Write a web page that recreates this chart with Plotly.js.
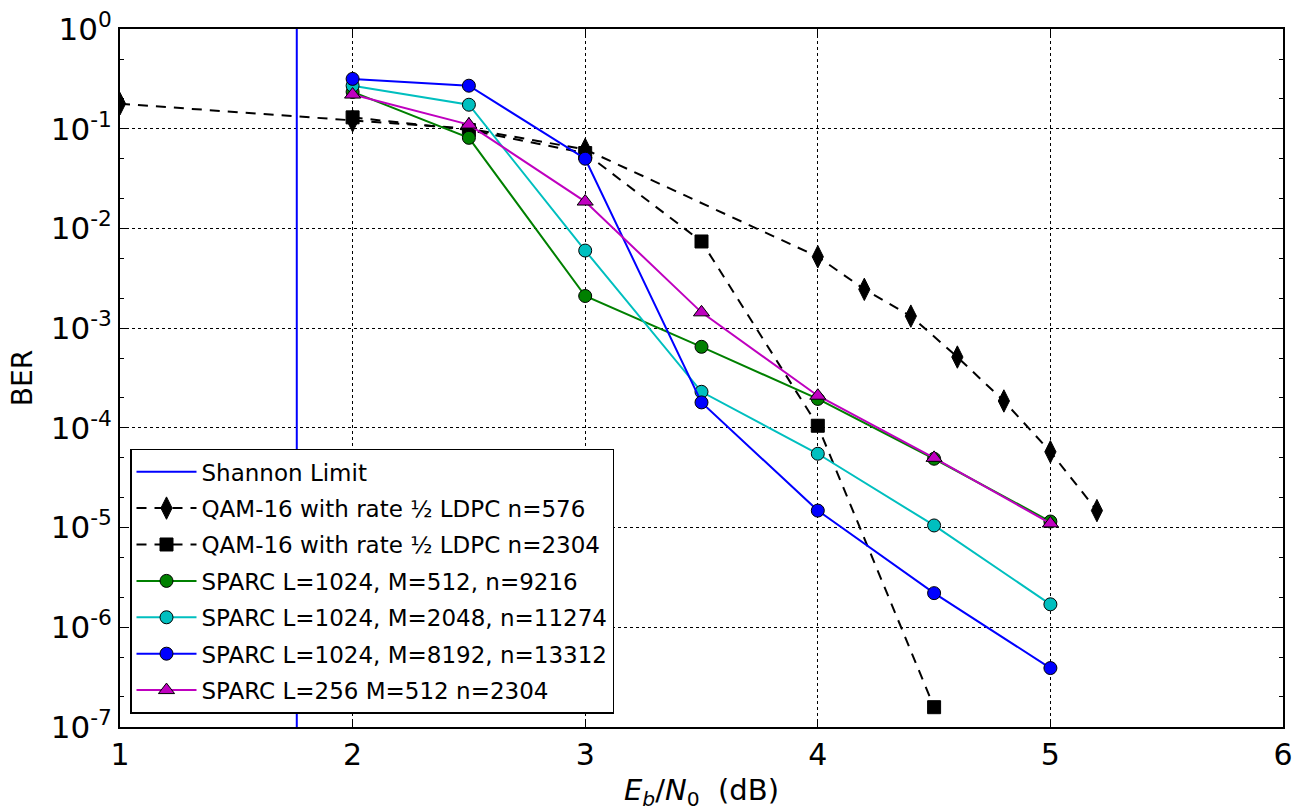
<!DOCTYPE html>
<html>
<head>
<meta charset="utf-8">
<script src="https://cdn.plot.ly/plotly-3.0.1.min.js"></script>
<style>
  html, body { margin: 0; padding: 0; background: #fff; }
  #chart { width: 1298px; height: 811px; }
</style>
</head>
<body>
<div id="chart"></div>
<script>
// Eb/N0 (dB) sample points
const ebnoSparc = [2, 2.5, 3, 3.5, 4, 4.5, 5];
const ebnoLdpc576 = [1, 2, 2.5, 3, 4, 4.2, 4.4, 4.6, 4.8, 5, 5.2];
const ebnoLdpc2304 = [2, 2.5, 3, 3.5, 4, 4.5];

// Shannon limit position (dB)
const shannonX = [1.76, 1.76];
const shannonY = [1e-7, 1];

// Bit error rates
const berLdpc576 = [0.178, 0.12, 0.1, 0.062, 0.0052, 0.00245, 0.00132, 0.000513, 0.000186, 5.75e-5, 1.48e-5];
const berLdpc2304 = [0.13, 0.097, 0.057, 0.0074, 1.05e-4, 1.58e-7];
const berSparcM512 = [0.234, 0.081, 0.0021, 6.5e-4, 1.95e-4, 4.9e-5, 1.15e-5];
const berSparcM2048 = [0.27, 0.174, 0.006, 2.3e-4, 5.5e-5, 1.05e-5, 1.7e-6];
const berSparcM8192 = [0.316, 0.27, 0.05, 1.8e-4, 1.48e-5, 2.2e-6, 3.9e-7];
const berSparcL256 = [0.22, 0.11, 0.0186, 1.44e-3, 2.1e-4, 5.0e-5, 1.1e-5];

// Axis ticks
const xTickVals = [1, 2, 3, 4, 5, 6];
const yTickVals = [1, 1e-1, 1e-2, 1e-3, 1e-4, 1e-5, 1e-6, 1e-7];
const yTickText = ['10<sup>0</sup>', '10<sup>-1</sup>', '10<sup>-2</sup>', '10<sup>-3</sup>',
                   '10<sup>-4</sup>', '10<sup>-5</sup>', '10<sup>-6</sup>', '10<sup>-7</sup>'];

const names = [
  'Shannon Limit',
  'QAM-16 with rate \u00BD LDPC n=576',
  'QAM-16 with rate \u00BD LDPC n=2304',
  'SPARC L=1024, M=512, n=9216',
  'SPARC L=1024, M=2048, n=11274',
  'SPARC L=1024, M=8192, n=13312',
  'SPARC L=256 M=512 n=2304'
];

const FONT = 'DejaVu Sans, Liberation Sans, sans-serif';
const outline = { color: '#000', width: 1 };

const traces = [
  { x: shannonX, y: shannonY, name: names[0], mode: 'lines',
    line: { color: '#0000FF', width: 2 } },
  { x: ebnoLdpc576, y: berLdpc576, name: names[1], mode: 'lines+markers',
    line: { color: '#000', width: 2, dash: '10px,8px' },
    marker: { symbol: 'diamond-tall', size: 16, color: '#000', line: outline } },
  { x: ebnoLdpc2304, y: berLdpc2304, name: names[2], mode: 'lines+markers',
    line: { color: '#000', width: 2, dash: '10px,8px' },
    marker: { symbol: 'square', size: 13, color: '#000', line: outline } },
  { x: ebnoSparc, y: berSparcM512, name: names[3], mode: 'lines+markers',
    line: { color: '#008000', width: 2 },
    marker: { symbol: 'circle', size: 13, color: '#008000', line: outline } },
  { x: ebnoSparc, y: berSparcM2048, name: names[4], mode: 'lines+markers',
    line: { color: '#00BFBF', width: 2 },
    marker: { symbol: 'circle', size: 13, color: '#00BFBF', line: outline } },
  { x: ebnoSparc, y: berSparcM8192, name: names[5], mode: 'lines+markers',
    line: { color: '#0000FF', width: 2 },
    marker: { symbol: 'circle', size: 13, color: '#0000FF', line: outline } },
  { x: ebnoSparc, y: berSparcL256, name: names[6], mode: 'lines+markers',
    line: { color: '#BF00BF', width: 2 },
    marker: { symbol: 'triangle-up', size: 14, color: '#BF00BF', line: outline } }
];
// one legend group per series so the legend rows get extra spacing
traces.forEach((t, i) => { t.legendgroup = 'g' + i; });

const layout = {
  width: 1298, height: 811,
  margin: { l: 120, r: 15, t: 29, b: 84 },
  paper_bgcolor: '#fff', plot_bgcolor: '#fff',
  font: { family: FONT, color: '#000', size: 28 },
  showlegend: true,
  legend: {
    x: 0.0086, y: 0.019, xanchor: 'left', yanchor: 'bottom',
    bgcolor: '#fff', bordercolor: '#000', borderwidth: 1.5,
    font: { family: FONT, size: 23, color: '#000' },
    tracegroupgap: 3.5, itemwidth: 60, traceorder: 'grouped'
  },
  xaxis: {
    range: [1, 6], tickvals: xTickVals, ticktext: xTickVals.map(String),
    ticks: 'inside', ticklen: 8, tickwidth: 1, tickcolor: '#000',
    showline: true, linecolor: '#000', linewidth: 2, mirror: 'ticks',
    showgrid: true, gridcolor: '#000', gridwidth: 1, griddash: 'dot',
    zeroline: false, tickfont: { size: 30 },
    title: { text: '<i>E</i><sub><i>b</i></sub>/<i>N</i><sub>0</sub>  (dB)', font: { size: 29 }, standoff: 12 }
  },
  yaxis: {
    type: 'log', range: [-7, 0], tickvals: yTickVals, ticktext: yTickText,
    ticks: 'inside', ticklen: 8, tickwidth: 1, tickcolor: '#000',
    showline: true, linecolor: '#000', linewidth: 2, mirror: 'ticks',
    showgrid: true, gridcolor: '#000', gridwidth: 1, griddash: 'dot',
    zeroline: false, tickfont: { size: 31 },
    minor: { ticks: 'inside', ticklen: 4, tickcolor: '#000', showgrid: false },
    title: { text: 'BER', font: { size: 28 }, standoff: 10 }
  }
};

Plotly.newPlot('chart', traces, layout, { displayModeBar: false, staticPlot: true });
</script>
</body>
</html>
